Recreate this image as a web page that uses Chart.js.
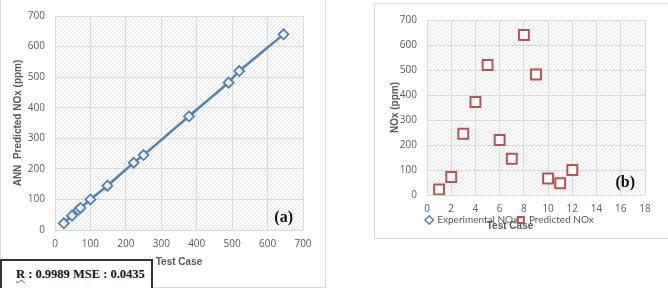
<!DOCTYPE html>
<html>
<head>
<meta charset="utf-8">
<script src="https://cdn.jsdelivr.net/npm/chart.js@4.4.0/dist/chart.umd.min.js"></script>
<style>
  body { margin: 0; background: #fff; width: 668px; height: 288px; overflow: hidden; position: relative; }
  .panel { position: absolute; border: 1px solid #d9d9d9; box-sizing: border-box; }
  #panelA { left: 0; top: -1px; width: 326px; height: 289px; }
  #panelB { left: 374px; top: 3px; width: 296px; height: 236px; }
  #wrapA { position: absolute; left: 0; top: 0; width: 324px; height: 270px; }
  #wrapB { position: absolute; left: 375px; top: 4px; width: 292px; height: 233px; }
  #stats {
    position: absolute; left: 0; top: 259px; width: 153px; height: 32px;
    border: 2px solid #333; box-sizing: border-box; background: #fff;
    font: bold 12.5px "Liberation Serif", "DejaVu Serif", serif; color: #111;
    padding: 6px 0 0 14px; white-space: nowrap;
  }
  #stats .r { text-decoration: underline wavy #3355cc; text-decoration-thickness: 1px; }
</style>
</head>
<body>
<div class="panel" id="panelA"></div>
<div class="panel" id="panelB"></div>
<div id="wrapA"><canvas id="chartA"></canvas></div>
<div id="wrapB"><canvas id="chartB"></canvas></div>
<div id="stats"><span class="r">R</span> : 0.9989 MSE : 0.0435</div>
<script>
// test cases and NOx values (ppm)
const testCases = [1, 2, 3, 4, 5, 6, 7, 8, 9, 10, 11, 12];
const experimentalNOx = [25, 72, 250, 378, 520, 222, 148, 645, 490, 66, 48, 100];
const predictedNOx = [22, 72, 245, 372, 520, 220, 145, 640, 482, 66, 47, 100];
const ticksA = [0, 100, 200, 300, 400, 500, 600, 700];
const ticksB = [0, 2, 4, 6, 8, 10, 12, 14, 16, 18];

const grey = "#595959";
const gridGrey = "#d9d9d9";
const tickFont = { family: "Open Sans", size: 10 };
const titleFont = { family: "Liberation Sans", size: 10, weight: "bold" };

// hatched plot background like the excel pattern fill
const hatch = document.createElement("canvas");
hatch.width = 4; hatch.height = 4;
const hctx = hatch.getContext("2d");
hctx.strokeStyle = "#e2e2e2";
hctx.lineWidth = 1;
hctx.beginPath();
hctx.moveTo(0, 4); hctx.lineTo(4, 0);
hctx.moveTo(-1, 1); hctx.lineTo(1, -1);
hctx.moveTo(3, 5); hctx.lineTo(5, 3);
hctx.stroke();

const hatchPlugin = {
    id: "hatch",
    beforeDraw(chart) {
        const a = chart.chartArea;
        const ctx = chart.ctx;
        ctx.save();
        ctx.fillStyle = ctx.createPattern(hatch, "repeat");
        ctx.fillRect(a.left, a.top, a.right - a.left, a.bottom - a.top);
        ctx.restore();
    }
};

const tagPlugin = {
    id: "tag",
    afterDraw(chart, args, opts) {
        const ctx = chart.ctx;
        ctx.save();
        ctx.font = "bold 16px 'Liberation Serif', serif";
        ctx.fillStyle = "#111";
        ctx.textAlign = "right";
        ctx.textBaseline = "middle";
        ctx.fillText(opts.text, chart.chartArea.right - 10, chart.chartArea.bottom - 12);
        ctx.restore();
    }
};

// (a) experimental vs predicted, sorted by experimental value
const pairs = experimentalNOx.map((x, i) => ({ x: x, y: predictedNOx[i] }))
    .sort((p, q) => p.x - q.x);

new Chart(document.getElementById("chartA"), {
    type: "scatter",
    data: {
        datasets: [{
            data: pairs,
            showLine: true,
            borderColor: "#4f81bd",
            borderWidth: 2.5,
            pointStyle: "rectRot",
            pointRadius: 5,
            pointBorderWidth: 1.8,
            pointBorderColor: "#4f81bd",
            pointBackgroundColor: "rgba(255,255,255,0.85)"
        }]
    },
    options: {
        responsive: true,
        maintainAspectRatio: false,
        animation: false,
        layout: { padding: { top: 15, right: 21, left: 0, bottom: 0 } },
        plugins: {
            legend: { display: false },
            tooltip: { enabled: false },
            tag: { text: "(a)" }
        },
        scales: {
            x: {
                min: 0, max: 700,
                afterBuildTicks: s => { s.ticks = ticksA.map(v => ({ value: v })); },
                afterFit: s => { s.height = 40; },
                grid: { color: gridGrey, drawTicks: false },
                border: { display: false },
                ticks: { color: grey, font: tickFont, padding: 8 },
                title: { display: true, text: "Test Case", color: grey, font: titleFont, padding: { top: 4, bottom: 2 } }
            },
            y: {
                min: 0, max: 700,
                afterBuildTicks: s => { s.ticks = ticksA.map(v => ({ value: v })); },
                afterFit: s => { s.width = 55; },
                grid: { color: gridGrey, drawTicks: false },
                border: { display: false },
                ticks: { color: grey, font: tickFont, padding: 10 },
                title: { display: true, text: "ANN  Predicted NOx (ppm)", color: grey, font: titleFont, padding: { top: 12, bottom: 0 } }
            }
        }
    },
    plugins: [hatchPlugin, tagPlugin]
});

// (b) NOx per test case; predicted squares drawn over experimental diamonds
new Chart(document.getElementById("chartB"), {
    type: "scatter",
    data: {
        datasets: [
            {
                label: "Experimental NOx",
                data: testCases.map((t, i) => ({ x: t, y: experimentalNOx[i] })),
                order: 2,
                pointStyle: "rectRot",
                pointRadius: 3,
                pointBorderWidth: 1.5,
                borderColor: "#4f81bd",
                backgroundColor: "#ffffff"
            },
            {
                label: "Predicted NOx",
                data: testCases.map((t, i) => ({ x: t, y: predictedNOx[i] })),
                order: 1,
                pointStyle: "rect",
                pointRadius: 7,
                pointBorderWidth: 2,
                borderColor: "#c0504d",
                backgroundColor: "#ffffff"
            }
        ]
    },
    options: {
        responsive: true,
        maintainAspectRatio: false,
        animation: false,
        layout: { padding: { top: 10, right: 22, left: 0, bottom: 0 } },
        plugins: {
            legend: {
                position: "bottom",
                maxHeight: 10,
                labels: {
                    usePointStyle: true,
                    boxWidth: 6,
                    boxHeight: 6,
                    padding: 0,
                    color: grey,
                    font: { family: "Lato", size: 10 },
                    sort: (a, b) => a.datasetIndex - b.datasetIndex
                }
            },
            title: {
                display: true,
                position: "bottom",
                text: "Test Case",
                color: grey,
                font: titleFont,
                padding: { top: -5, bottom: 5 }
            },
            tooltip: { enabled: false },
            tag: { text: "(b)" }
        },
        scales: {
            x: {
                min: 0, max: 18,
                afterBuildTicks: s => { s.ticks = ticksB.map(v => ({ value: v })); },
                afterFit: s => { s.height = 20; },
                grid: { color: gridGrey, drawTicks: false },
                border: { display: false },
                ticks: { color: grey, font: tickFont, padding: 8 }
            },
            y: {
                min: 0, max: 700,
                afterBuildTicks: s => { s.ticks = ticksA.map(v => ({ value: v })); },
                afterFit: s => { s.width = 52; },
                grid: { color: gridGrey, drawTicks: false },
                border: { display: false },
                ticks: { color: grey, font: tickFont, padding: 10 },
                title: { display: true, text: "NOx (ppm)", color: grey, font: titleFont, padding: { top: 14, bottom: 0 } }
            }
        }
    },
    plugins: [hatchPlugin, tagPlugin]
});
</script>
</body>
</html>
